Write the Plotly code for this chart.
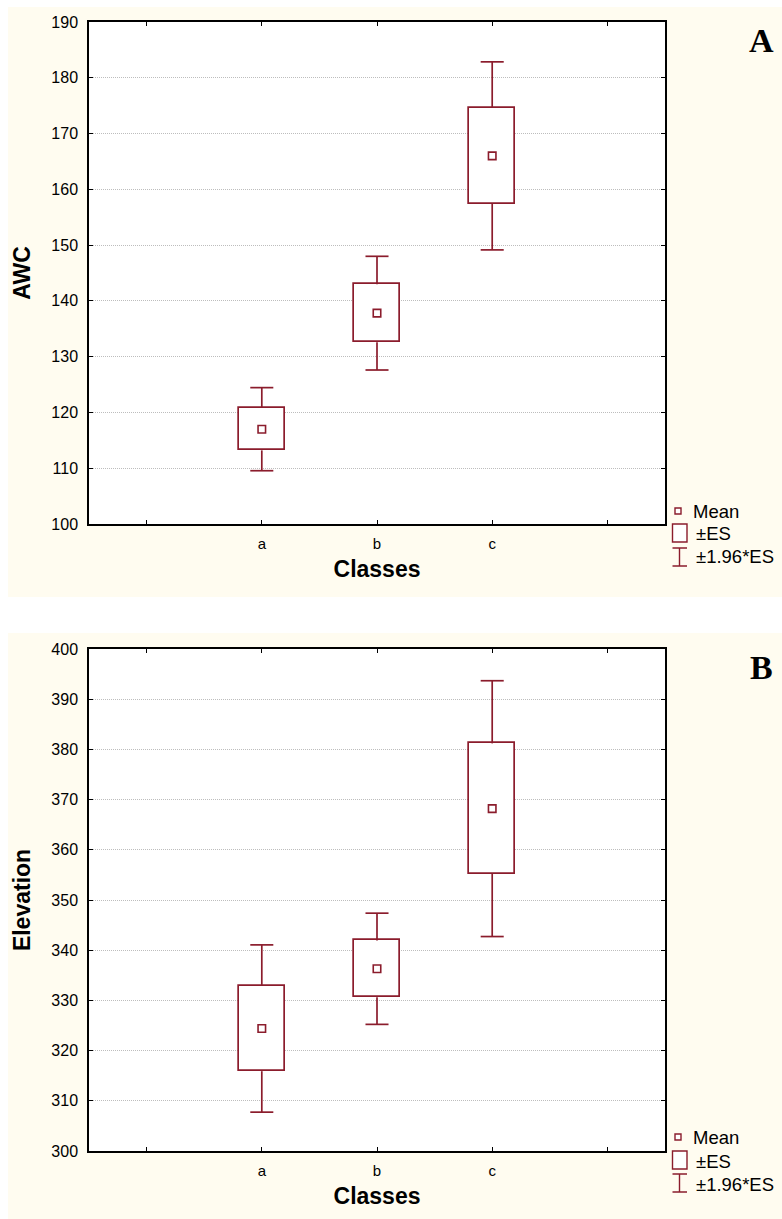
import plotly.graph_objects as go

# ---------------- data ----------------
classes = ["a", "b", "c"]
class_pos = [1, 2, 3]
x_tickvals = [0, 1, 2, 3, 4]
x_ticktext = ["", "a", "b", "c", ""]

awc_mean = [117.0, 137.8, 166.0]
awc_es = [3.8, 5.2, 8.6]

elev_mean = [324.4, 336.3, 368.2]
elev_es = [8.5, 5.65, 13.0]

awc_ticks = [100, 110, 120, 130, 140, 150, 160, 170, 180, 190]
elev_ticks = [300, 310, 320, 330, 340, 350, 360, 370, 380, 390, 400]

legend_labels = ["Mean", "\u00b1ES", "\u00b11.96*ES"]

# ---------------- style ----------------
W, H = 782, 1219
RED = "#8b1c2c"
CREAM = "#fffcf0"
FONT = "Liberation Sans, Arial, sans-serif"
BOX_W = 0.4
CAP_W = 0.2


def px(x):
    return x / W


def py(y):
    return 1 - y / H


fig = go.Figure()


def add_panel(means, ess, xa, ya):
    lo = [m - e for m, e in zip(means, ess)]
    hi = [m + e for m, e in zip(means, ess)]
    clo = [m - 1.96 * e for m, e in zip(means, ess)]
    chi = [m + 1.96 * e for m, e in zip(means, ess)]
    fig.add_trace(go.Bar(
        x=class_pos, y=[h - l for h, l in zip(hi, lo)], base=lo, width=BOX_W,
        marker=dict(color="white", line=dict(color=RED, width=1.7)),
        xaxis=xa, yaxis=ya, showlegend=False, hoverinfo="skip"))
    wx, wy = [], []
    for p, l, h, cl, ch in zip(class_pos, lo, hi, clo, chi):
        wx += [p, p, None, p - CAP_W / 2, p + CAP_W / 2, None,
               p, p, None, p - CAP_W / 2, p + CAP_W / 2, None]
        wy += [h, ch, None, ch, ch, None, l, cl, None, cl, cl, None]
    fig.add_trace(go.Scatter(
        x=wx, y=wy, mode="lines", line=dict(color=RED, width=1.7),
        xaxis=xa, yaxis=ya, showlegend=False, hoverinfo="skip"))
    fig.add_trace(go.Scatter(
        x=class_pos, y=means, mode="markers",
        marker=dict(symbol="square", size=7.5, color="white",
                    line=dict(color=RED, width=1.6)),
        xaxis=xa, yaxis=ya, showlegend=False))


add_panel(awc_mean, awc_es, "x", "y")
add_panel(elev_mean, elev_es, "x2", "y2")

xdom = [px(89), px(665)]
top_dom = [py(524), py(22)]
bot_dom = [py(1151), py(649)]

axis_common = dict(showline=True, mirror="ticks", linecolor="black", linewidth=1.5,
                   ticks="inside", ticklen=4, tickcolor="black", tickwidth=1,
                   zeroline=False, automargin=False,
                   tickfont=dict(family=FONT, size=16, color="black"))

xcommon = dict(axis_common, range=[-0.5, 4.5], tickmode="array", tickvals=x_tickvals,
               ticktext=x_ticktext, showgrid=False, domain=xdom,
               tickfont=dict(family=FONT, size=15, color="black"),
               ticklabelstandoff=5,
               title=dict(text="<b>Classes</b>", font=dict(family=FONT, size=23, color="black"),
                          standoff=10))

ycommon = dict(axis_common, showgrid=True, gridcolor="#bdbdbd", griddash="1px,1px", gridwidth=1,
               ticklabelstandoff=6)

fig.update_layout(
    width=W, height=H,
    margin=dict(l=0, r=0, t=0, b=0, pad=0),
    paper_bgcolor="white", plot_bgcolor="white",
    bargap=0, barmode="overlay",
    xaxis=dict(xcommon, anchor="y"),
    yaxis=dict(ycommon, domain=top_dom, range=[100, 190], tickvals=awc_ticks, anchor="x",
               title=dict(text="<b>AWC</b>", font=dict(family=FONT, size=23, color="black"),
                          standoff=14)),
    xaxis2=dict(xcommon, anchor="y2"),
    yaxis2=dict(ycommon, domain=bot_dom, range=[300, 400], tickvals=elev_ticks, anchor="x2",
                title=dict(text="<b>Elevation</b>", font=dict(family=FONT, size=23, color="black"),
                           standoff=14)),
)

shapes = []
annotations = []
# panel backgrounds (cream) and white plotting areas on top of them
for (y0, y1), (p0, p1) in zip([(7, 597), (633, 1219)], [(22, 524), (649, 1151)]):
    shapes.append(dict(type="rect", xref="paper", yref="paper", layer="below",
                       x0=px(8), x1=px(782), y0=py(y1), y1=py(y0),
                       fillcolor=CREAM, line=dict(width=0)))
    shapes.append(dict(type="rect", xref="paper", yref="paper", layer="below",
                       x0=px(89), x1=px(665), y0=py(p1), y1=py(p0),
                       fillcolor="white", line=dict(width=0)))
# panel letters
for letter, yc in [("A", 41), ("B", 667)]:
    annotations.append(dict(text="<b>%s</b>" % letter, xref="paper", yref="paper",
                            x=px(761), y=py(yc), showarrow=False, xanchor="center",
                            yanchor="middle",
                            font=dict(family="Liberation Serif, Times New Roman, serif",
                                      size=34, color="black")))

# custom legends (key, in paper coordinates)
for mean_y, es_y0, es_y1, ib_y0, ib_y1, txt_y in [
        (511, 524, 542, 548, 566, [511, 533, 556]),
        (1137, 1151, 1169, 1174, 1192, [1137, 1161, 1184])]:
    shapes.append(dict(type="rect", xref="paper", yref="paper",
                       x0=px(675), x1=px(681), y0=py(mean_y + 3), y1=py(mean_y - 3),
                       line=dict(color=RED, width=1.4), fillcolor="white"))
    shapes.append(dict(type="rect", xref="paper", yref="paper",
                       x0=px(672.5), x1=px(687), y0=py(es_y1), y1=py(es_y0),
                       line=dict(color=RED, width=1.4), fillcolor="white"))
    shapes.append(dict(type="path", xref="paper", yref="paper",
                       path="M %f,%f L %f,%f M %f,%f L %f,%f M %f,%f L %f,%f" % (
                           px(672.5), py(ib_y0), px(687), py(ib_y0),
                           px(679.5), py(ib_y0), px(679.5), py(ib_y1),
                           px(672.5), py(ib_y1), px(687), py(ib_y1)),
                       line=dict(color=RED, width=1.4)))
    for lab, ty, tx in zip(legend_labels, txt_y, [691, 694, 694]):
        annotations.append(dict(text=lab, xref="paper", yref="paper", x=px(tx), y=py(ty),
                                showarrow=False, xanchor="left", yanchor="middle",
                                font=dict(family=FONT, size=18.5, color="black")))

fig.update_layout(shapes=shapes, annotations=annotations)

fig.write_html(
    "out.html",
    config={"displayModeBar": False},
    post_script=("document.body.style.margin='0';document.body.style.padding='0';"
                 "document.documentElement.style.overflow='hidden';"),
)
